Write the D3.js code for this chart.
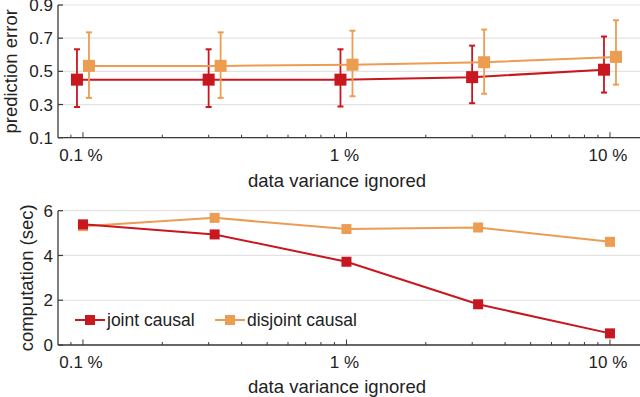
<!DOCTYPE html>
<html><head><meta charset="utf-8">
<script src="https://cdn.jsdelivr.net/npm/d3@7"></script>
<style>
body{margin:0;background:#fff;}
svg{display:block;}
text{font-family:"Liberation Sans",Arial,Helvetica,sans-serif;fill:#222;}
</style></head>
<body><svg id="c" width="640" height="397"></svg>
<script>
// ---- data ----
const xValues = [0.1, 0.316, 1, 3.16, 10];            // % data variance ignored
const xTickValues = [0.1, 1, 10];
const xTickLabels = ["0.1 %", "1 %", "10 %"];
const seriesNames = ["joint causal", "disjoint causal"];
// prediction error (mean, low, high)
const jointErr = [0.45, 0.45, 0.45, 0.465, 0.51];
const jointErrLow = [0.285, 0.285, 0.288, 0.308, 0.372];
const jointErrHigh = [0.633, 0.633, 0.633, 0.655, 0.71];
const disjointErr = [0.533, 0.533, 0.54, 0.555, 0.587];
const disjointErrLow = [0.34, 0.34, 0.35, 0.365, 0.42];
const disjointErrHigh = [0.735, 0.735, 0.745, 0.752, 0.808];
const topYTicks = [0.1, 0.3, 0.5, 0.7, 0.9];
// computation time (sec)
const jointTime = [5.39, 4.94, 3.72, 1.82, 0.52];
const disjointTime = [5.31, 5.68, 5.18, 5.25, 4.61];
const botYTicks = [0, 2, 4, 6];

const RED = "#c8171e", ORANGE = "#ec9d52", GRID = "#e3e3e3", AXIS = "#3a3a3a";
const svg = d3.select("#c");

const x = d3.scaleLog().domain([0.0804, 13.0]).range([58, 640]);
const allTicks = x.ticks();

function panel(y0, y1, yDomain, yTicks, yFmt, yLabel, yLabelX, titleY) {
  const y = d3.scaleLinear().domain(yDomain).range([y0, y1]);
  const g = svg.append("g");
  g.selectAll(".grid").data(yTicks).join("line")
    .attr("x1", 58).attr("x2", 640).attr("y1", d => y(d)).attr("y2", d => y(d))
    .attr("stroke", GRID).attr("stroke-width", 1.2);
  g.append("line").attr("x1", 58).attr("x2", 58).attr("y1", y(yDomain[0])).attr("y2", y(yDomain[1]))
    .attr("stroke", AXIS).attr("stroke-width", 1.3);
  g.selectAll(".yt").data(yTicks).join("line")
    .attr("x1", 58).attr("x2", 63).attr("y1", d => y(d)).attr("y2", d => y(d))
    .attr("stroke", AXIS).attr("stroke-width", 1.2);
  g.selectAll(".yl").data(yTicks).join("text")
    .attr("x", 53).attr("y", d => y(d)).attr("dy", "0.36em")
    .attr("text-anchor", "end").style("font-size", "17px").text(yFmt);
  g.append("line").attr("x1", 58).attr("x2", 640).attr("y1", y0).attr("y2", y0)
    .attr("stroke", AXIS).attr("stroke-width", 1.3);
  g.selectAll(".xt").data(allTicks).join("line")
    .attr("x1", d => x(d)).attr("x2", d => x(d)).attr("y1", y0)
    .attr("y2", d => y0 - (xTickValues.some(v => Math.abs(v - d) < 1e-9) ? 5.5 : 3))
    .attr("stroke", AXIS).attr("stroke-width", 1);
  g.selectAll(".xl").data(xTickValues).join("text")
    .attr("x", d => x(d) - 2).attr("y", y0 + 23)
    .attr("text-anchor", "middle").style("font-size", "17px")
    .text((d, i) => xTickLabels[i]);
  g.append("text").attr("x", 337).attr("y", titleY).attr("text-anchor", "middle")
    .style("font-size", "18.5px").text("data variance ignored");
  g.append("text").attr("transform", `translate(${yLabelX},${(y0 + y1) / 2}) rotate(-90)`)
    .attr("text-anchor", "middle").style("font-size", "18.5px").text(yLabel);
  return {g, y};
}

// ---- top panel ----
const topP = panel(137.7, 5, [0.1, 0.9], topYTicks, d => d.toFixed(1), "prediction error", 17, 187);
const dodge = [-6, 6];
[[jointErr, jointErrLow, jointErrHigh, RED], [disjointErr, disjointErrLow, disjointErrHigh, ORANGE]]
.forEach(([m, lo, hi, col], s) => {
  const off = dodge[s];
  const g = topP.g.append("g");
  g.append("path").datum(xValues)
    .attr("d", d3.line().x(d => x(d) + off).y((d, i) => topP.y(m[i])))
    .attr("fill", "none").attr("stroke", col).attr("stroke-width", 2);
  xValues.forEach((xv, i) => {
    const cx = x(xv) + off;
    g.append("line").attr("x1", cx).attr("x2", cx).attr("y1", topP.y(lo[i])).attr("y2", topP.y(hi[i]))
      .attr("stroke", col).attr("stroke-width", 1.8);
    [lo[i], hi[i]].forEach(v => g.append("line").attr("x1", cx - 3).attr("x2", cx + 3)
      .attr("y1", topP.y(v)).attr("y2", topP.y(v)).attr("stroke", col).attr("stroke-width", 2));
    g.append("rect").attr("x", cx - 6).attr("y", topP.y(m[i]) - 6).attr("width", 12).attr("height", 12)
      .attr("fill", col);
  });
});

// ---- bottom panel ----
const botP = panel(345, 210.7, [0, 6], botYTicks, d => d, "computation (sec)", 33, 393);
[[disjointTime, ORANGE], [jointTime, RED]].forEach(([v, col]) => {
  const g = botP.g.append("g");
  g.append("path").datum(xValues)
    .attr("d", d3.line().x(d => x(d)).y((d, i) => botP.y(v[i])))
    .attr("fill", "none").attr("stroke", col).attr("stroke-width", 2);
  g.selectAll("rect").data(xValues).join("rect")
    .attr("x", d => x(d) - 5).attr("y", (d, i) => botP.y(v[i]) - 5)
    .attr("width", 10).attr("height", 10).attr("fill", col);
});

// legend
const legend = [{name: seriesNames[0], col: RED, x0: 75}, {name: seriesNames[1], col: ORANGE, x0: 215}];
const lg = svg.append("g");
legend.forEach(d => {
  lg.append("line").attr("x1", d.x0).attr("x2", d.x0 + 30).attr("y1", 320).attr("y2", 320)
    .attr("stroke", d.col).attr("stroke-width", 2);
  lg.append("rect").attr("x", d.x0 + 10).attr("y", 315).attr("width", 10).attr("height", 10).attr("fill", d.col);
  lg.append("text").attr("x", d.x0 + 32).attr("y", 320).attr("dy", "0.36em")
    .style("font-size", "17.5px").text(d.name);
});
</script></body></html>
